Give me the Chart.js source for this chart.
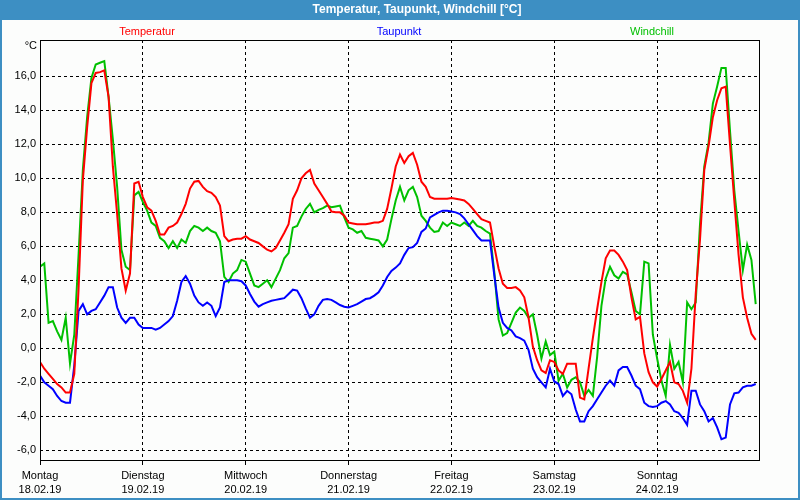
<!DOCTYPE html>
<html>
<head>
<meta charset="utf-8">
<script src="https://cdn.jsdelivr.net/npm/chart.js@4"></script>
<style>
    html, body { margin: 0; padding: 0; background: #fff; }
</style>
</head>
<body>
<canvas id="chart" width="800" height="500"></canvas>
<script>
    // Stundenwerte 18.02.19 00:00 bis 24.02.19 23:00
    var temperatur = [
        -0.8, -1.2, -1.5, -1.8, -2.1, -2.3, -2.6, -2.6, -1.5, 3.5,
        9.9, 13.0, 15.6, 16.2, 16.25, 16.35, 14.8, 10.7, 7.9, 4.7,
        3.4, 4.4, 9.7, 9.8, 8.9, 8.3, 8.1, 7.5, 6.7, 6.7,
        7.1, 7.2, 7.4, 7.9, 8.5, 9.4, 9.8, 9.85, 9.5, 9.25,
        9.15, 8.9, 8.4, 6.6, 6.3, 6.4, 6.45, 6.45, 6.6, 6.4,
        6.3, 6.2, 6.0, 5.8, 5.7, 5.9, 6.35, 6.8, 7.3, 8.8,
        9.3, 10.0, 10.3, 10.5, 9.7, 9.3, 8.9, 8.5, 8.05, 8.0,
        8.0, 7.8, 7.4, 7.35, 7.3, 7.3, 7.3, 7.35, 7.4, 7.4,
        7.5, 8.2, 9.4, 10.7, 11.4, 10.9, 11.3, 11.5, 10.8, 9.8,
        9.5, 8.9, 8.8, 8.8, 8.8, 8.8, 8.85, 8.8, 8.75, 8.7,
        8.5, 8.2, 7.9, 7.6, 7.5, 7.4, 6.0, 4.7, 3.8, 3.55,
        3.55, 3.6, 3.4, 3.0, 1.8, 0.1, -0.7, -1.3, -1.45, -0.7,
        -0.8, -1.3, -1.5, -0.9, -0.9, -0.9, -2.9, -3.0, -1.2, 0.6,
        2.3, 3.9, 5.3, 5.75, 5.75, 5.5, 5.1, 4.6, 3.0, 1.7,
        1.85, -0.3, -1.4, -2.0, -2.25, -1.8, -1.3, -0.8, -2.0, -2.1,
        -2.5, -3.2, -1.2, 3.2, 6.4, 10.5, 11.9, 13.6, 14.6, 15.3,
        15.4, 12.0, 8.7, 5.5, 3.0, 1.8, 0.85, 0.5
    ];
    var taupunkt = [
        -1.6, -2.0, -2.2, -2.4, -2.8, -3.1, -3.2, -3.2, -1.0, 2.2,
        2.6, 2.0, 2.2, 2.3, 2.7, 3.1, 3.6, 3.6, 2.4, 1.8,
        1.5, 1.8, 1.8, 1.4, 1.2, 1.2, 1.2, 1.1, 1.2, 1.4,
        1.6, 1.9, 2.8, 3.9, 4.25, 3.8, 3.1, 2.7, 2.5, 2.7,
        2.5, 1.9, 2.4, 3.9, 4.0, 4.0, 4.0, 3.95, 3.7, 3.2,
        2.75, 2.45, 2.6, 2.7, 2.8, 2.85, 2.9, 2.95, 3.2, 3.45,
        3.4, 2.95, 2.35, 1.8, 2.0, 2.5, 2.85, 2.9, 2.85, 2.7,
        2.55, 2.45, 2.4, 2.5, 2.6, 2.75, 2.9, 2.95, 3.1, 3.3,
        3.7, 4.2, 4.55, 4.75, 5.0, 5.5, 5.9, 5.95, 6.2, 6.85,
        7.05, 7.7, 7.85, 8.0, 8.1, 8.1, 8.05, 8.0, 7.9, 7.65,
        7.3, 6.95, 6.6, 6.35, 6.35, 6.35, 4.3, 2.4, 1.5, 1.2,
        1.05, 0.7, 0.6, 0.45, -0.1, -1.2, -1.7, -2.0, -2.3, -1.2,
        -1.95, -2.1, -2.8, -2.5, -2.7, -3.6, -4.3, -4.3, -3.7, -3.4,
        -3.0, -2.6, -2.2, -1.9, -2.2, -1.3, -1.1, -1.1, -1.6, -2.2,
        -2.4, -3.2, -3.4, -3.45, -3.4, -3.2, -3.1, -3.3, -3.7, -3.8,
        -4.1, -4.5, -2.5, -2.5, -3.3, -3.7, -4.3, -4.1, -4.65, -5.35,
        -5.25, -3.3, -2.65, -2.6, -2.3, -2.2, -2.2, -2.1
    ];
    var windchill = [
        4.8, 5.0, 1.5, 1.6, 1.0, 0.5, 1.8, -0.9, 0.8, 5.5,
        10.5, 13.6, 15.9, 16.7, 16.8, 16.9, 14.8, 12.3, 9.5, 5.8,
        4.8, 4.6, 9.0, 9.2, 8.6, 8.1, 7.4, 7.2, 6.5, 6.3,
        5.9, 6.3, 5.9, 6.4, 6.2, 6.9, 7.2, 7.1, 6.9, 7.1,
        6.9, 6.8, 6.3, 4.2, 3.9, 4.4, 4.6, 5.2, 5.1, 4.4,
        3.7, 3.6, 3.8, 4.0, 3.6, 4.1, 4.6, 5.3, 5.6, 7.1,
        7.2, 7.75, 8.2, 8.5, 8.0, 8.15, 8.25, 8.4, 8.3, 8.35,
        8.4, 7.7, 7.1, 7.0, 6.8, 6.9, 6.5, 6.45, 6.4, 6.35,
        6.0, 6.4, 7.6, 8.7, 9.5, 8.7, 9.3, 9.5, 8.9, 7.8,
        7.5, 7.1, 6.85, 6.9, 7.4, 7.2, 7.4, 7.3, 7.2, 7.4,
        7.2, 7.5, 7.2, 7.1, 6.9, 6.75, 4.5, 1.7, 0.75, 0.9,
        1.5, 2.1, 2.4, 2.2, 1.8, 2.0, 0.8, -0.6, 0.4, -0.4,
        -0.2, -1.9, -1.5, -2.3, -1.85, -1.7, -2.0, -2.8, -2.45, -2.8,
        -0.5, 2.5, 4.1, 4.8, 4.3, 4.1, 4.5, 4.35, 3.3, 2.2,
        2.0, 5.1, 5.0, 0.8, -0.6, -1.9, -2.8, 0.2, -1.2, -0.8,
        -2.0, 2.7, 2.3, 2.7, 7.3, 10.7, 12.1, 14.4, 15.4, 16.5,
        16.5, 12.8, 9.3, 6.9, 4.6, 6.1, 5.2, 2.6
    ];

    var dayNames = ['Montag', 'Dienstag', 'Mittwoch', 'Donnerstag', 'Freitag', 'Samstag', 'Sonntag'];
    var dates = ['18.02.19', '19.02.19', '20.02.19', '21.02.19', '22.02.19', '23.02.19', '24.02.19'];
    var dayStarts = [0, 24, 48, 72, 96, 120, 144, 168];
    var yTicks = [-6, -4, -2, 0, 2, 4, 6, 8, 10, 12, 14, 16];

    var FONT = 'Liberation Sans';

    function toPoints(arr) {
        return arr.map(function (v, i) { return {x: i, y: v}; });
    }

    var frame = {
        id: 'frame',
        beforeDraw: function (chart) {
            var ctx = chart.ctx;
            ctx.save();
            ctx.fillStyle = '#fcfdfc';
            ctx.fillRect(0, 0, 800, 500);
            ctx.fillStyle = '#3d8fc3';
            ctx.fillRect(0, 0, 800, 20);
            ctx.fillRect(0, 20, 2, 480);
            ctx.fillRect(798, 20, 2, 480);
            ctx.fillRect(0, 498, 800, 2);
            ctx.fillStyle = '#fff';
            ctx.font = 'bold 12px ' + FONT;
            ctx.textAlign = 'center';
            ctx.textBaseline = 'middle';
            ctx.fillText('Temperatur, Taupunkt, Windchill [°C]', 417, 10);
            ctx.restore();
        },
        afterDatasetsDraw: function (chart) {
            var ctx = chart.ctx, a = chart.chartArea;
            ctx.save();
            ctx.strokeStyle = '#000';
            ctx.lineWidth = 1;
            ctx.strokeRect(a.left + 0.5, a.top + 0.5, a.right - a.left - 1, a.bottom - a.top);
            ctx.font = '11px ' + FONT;
            ctx.textBaseline = 'middle';
            ctx.textAlign = 'right';
            ctx.fillStyle = '#000';
            ctx.fillText('°C', 37, 46);
            ctx.textAlign = 'center';
            var xs = [147, 399, 652];
            chart.data.datasets.forEach(function (ds, i) {
                ctx.fillStyle = ds.borderColor;
                ctx.fillText(ds.label, xs[i], 32);
            });
            ctx.restore();
        }
    };

    new Chart(document.getElementById('chart').getContext('2d'), {
        type: 'line',
        data: {
            datasets: [
                {label: 'Temperatur', data: toPoints(temperatur), borderColor: '#ff0000'},
                {label: 'Taupunkt', data: toPoints(taupunkt), borderColor: '#0000ff'},
                {label: 'Windchill', data: toPoints(windchill), borderColor: '#00c000'}
            ]
        },
        options: {
            responsive: false,
            animation: false,
            devicePixelRatio: 1,
            layout: {padding: {left: 0, top: 40, right: 40, bottom: 0}},
            elements: {
                line: {borderWidth: 2, tension: 0, fill: false},
                point: {radius: 0}
            },
            plugins: {legend: {display: false}, title: {display: false}, tooltip: {enabled: false}},
            scales: {
                x: {
                    type: 'linear',
                    min: 0,
                    max: 168,
                    afterFit: function (s) { s.height = 40; },
                    afterBuildTicks: function (s) {
                        s.ticks = dayStarts.map(function (v) { return {value: v}; });
                    },
                    grid: {
                        color: function (c) { return c.tick && c.tick.value === 168 ? 'rgba(0,0,0,0)' : '#000'; },
                        lineWidth: 1,
                        tickLength: 5
                    },
                    border: {display: false, dash: [3, 3]},
                    ticks: {
                        color: '#000',
                        font: {family: FONT, size: 11, lineHeight: 1.36},
                        padding: 3,
                        maxRotation: 0,
                        autoSkip: false,
                        callback: function (value) {
                            var i = value / 24;
                            return i < dayNames.length ? [dayNames[i], dates[i]] : '';
                        }
                    }
                },
                y: {
                    min: -6.57,
                    max: 18.14,
                    afterFit: function (s) { s.width = 40; },
                    afterBuildTicks: function (s) {
                        s.ticks = yTicks.map(function (v) { return {value: v}; });
                    },
                    grid: {color: '#000', lineWidth: 1, drawTicks: false},
                    border: {display: false, dash: [3, 3]},
                    ticks: {
                        color: '#000',
                        font: {family: FONT, size: 11},
                        padding: 4,
                        callback: function (value) {
                            return value.toFixed(1).replace('.', ',');
                        }
                    }
                }
            }
        },
        plugins: [frame]
    });
</script>
</body>
</html>
